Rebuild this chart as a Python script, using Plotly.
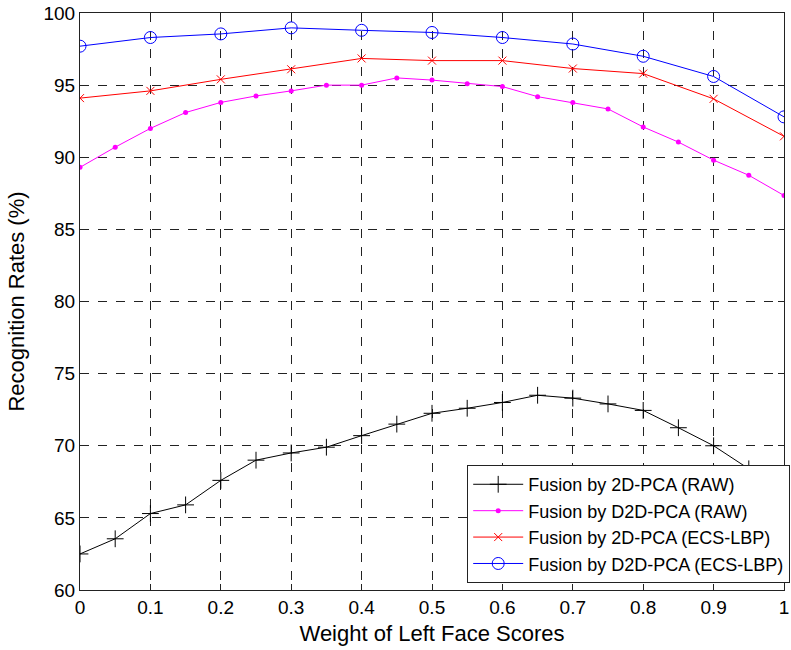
import plotly.graph_objects as go

x21 = [round(i * 0.05, 2) for i in range(21)]
x11 = [round(i * 0.1, 1) for i in range(11)]

pca2d_raw = [62.5, 63.55, 65.3, 65.9, 67.6, 69.0, 69.5, 69.9, 70.7, 71.5, 72.25,
             72.6, 73.0, 73.5, 73.3, 72.9, 72.45, 71.25, 70.0, 68.4, 65.8]
d2dpca_raw = [89.3, 90.7, 92.0, 93.1, 93.8, 94.25, 94.6, 95.0, 95.0, 95.5, 95.35,
              95.1, 94.9, 94.2, 93.8, 93.35, 92.1, 91.05, 89.8, 88.75, 87.35]
pca2d_lbp = [94.1, 94.6, 95.4, 96.1, 96.85, 96.7, 96.7, 96.15, 95.8, 94.05, 91.45]
d2dpca_lbp = [97.7, 98.3, 98.55, 98.97, 98.8, 98.65, 98.3, 97.85, 97.0, 95.6, 92.8]

names = ["Fusion by 2D-PCA (RAW)", "Fusion by D2D-PCA (RAW)",
         "Fusion by 2D-PCA (ECS-LBP)", "Fusion by D2D-PCA (ECS-LBP)"]
xticks = [0, 0.1, 0.2, 0.3, 0.4, 0.5, 0.6, 0.7, 0.8, 0.9, 1]
xticklabels = ["0", "0.1", "0.2", "0.3", "0.4", "0.5", "0.6", "0.7", "0.8", "0.9", "1"]
yticks = [60, 65, 70, 75, 80, 85, 90, 95, 100]

fig = go.Figure()
fig.add_trace(go.Scatter(x=x21, y=pca2d_raw, name=names[0], mode="lines+markers",
                         line=dict(color="black", width=1),
                         marker=dict(symbol="cross-thin-open", size=12, color="black",
                                     line=dict(color="black", width=1))))
fig.add_trace(go.Scatter(x=x21, y=d2dpca_raw, name=names[1], mode="lines+markers",
                         line=dict(color="#ff00ff", width=1),
                         marker=dict(symbol="circle", size=5, color="#ff00ff")))
fig.add_trace(go.Scatter(x=x11, y=pca2d_lbp, name=names[2], mode="lines+markers",
                         line=dict(color="red", width=1),
                         marker=dict(symbol="x-thin-open", size=8, color="red",
                                     line=dict(color="red", width=1))))
fig.add_trace(go.Scatter(x=x11, y=d2dpca_lbp, name=names[3], mode="lines+markers",
                         line=dict(color="blue", width=1),
                         marker=dict(symbol="circle-open", size=12, color="blue",
                                     line=dict(color="blue", width=1))))

tick_font = dict(family="Liberation Sans Narrow, Arial Narrow, Liberation Sans, Arial",
                 size=19, color="black")
axis_common = dict(showline=True, linecolor="#222", linewidth=1, mirror="ticks",
                   ticks="inside", ticklen=6, tickcolor="#222",
                   showgrid=True, gridcolor="#222", griddash="dash", gridwidth=1,
                   zeroline=False, tickfont=tick_font, ticklabeloverflow="allow")

fig.update_layout(
    width=791, height=650,
    margin=dict(l=80, r=7, t=13, b=60, autoexpand=False),
    plot_bgcolor="white", paper_bgcolor="white",
    font=dict(family="Liberation Sans, Arial", color="black"),
    xaxis=dict(range=[0, 1], tickvals=xticks, ticktext=xticklabels,
               title=dict(text="Weight of Left Face Scores", font=dict(size=22), standoff=8),
               **axis_common),
    yaxis=dict(range=[60, 100], tickvals=yticks,
               title=dict(text="Recognition Rates (%)", font=dict(size=22), standoff=12),
               **axis_common),
    legend=dict(x=0.55, y=0.012, xanchor="left", yanchor="bottom",
                bgcolor="white", bordercolor="#222", borderwidth=1,
                font=dict(size=18, family="Liberation Sans, Arial"),
                itemwidth=50, tracegroupgap=0),
    showlegend=True,
)

fig.write_html("out.html", config={"displayModeBar": False},
               post_script="document.body.style.margin='0';document.body.style.overflow='hidden';")
